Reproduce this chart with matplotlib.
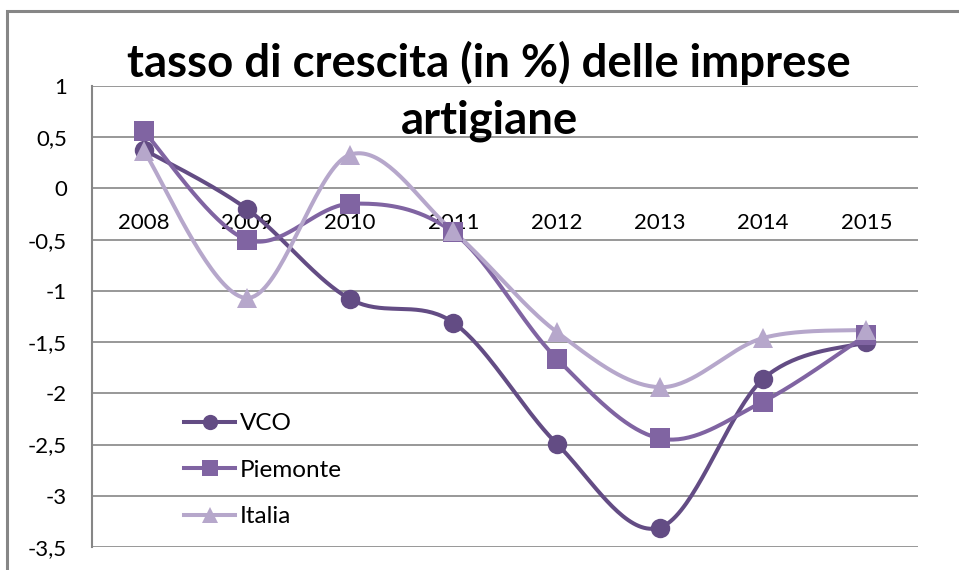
import numpy as np
import matplotlib.pyplot as plt
from matplotlib.patches import Rectangle

plt.rcParams['font.family'] = ['Lato', 'DejaVu Sans']

years = ['2008', '2009', '2010', '2011', '2012', '2013', '2014', '2015']
vco = [0.38, -0.20, -1.08, -1.31, -2.49, -3.31, -1.86, -1.50]
piemonte = [0.56, -0.50, -0.15, -0.43, -1.66, -2.44, -2.08, -1.43]
italia = [0.37, -1.07, 0.33, -0.42, -1.40, -1.94, -1.46, -1.38]
y_ticks = [1, 0.5, 0, -0.5, -1, -1.5, -2, -2.5, -3, -3.5]


def smooth(xs, ys, n=40):
    # Excel-like smoothed line (Catmull-Rom as Bezier segments)
    pts = np.column_stack([xs, ys]).astype(float)
    out = []
    for i in range(len(pts) - 1):
        p0 = pts[max(i - 1, 0)]
        p1 = pts[i]
        p2 = pts[i + 1]
        p3 = pts[min(i + 2, len(pts) - 1)]
        c1 = p1 + (p2 - p0) / 6
        c2 = p2 - (p3 - p1) / 6
        t = np.linspace(0, 1, n)[:, None]
        seg = ((1 - t) ** 3) * p1 + 3 * ((1 - t) ** 2) * t * c1 + 3 * (1 - t) * t ** 2 * c2 + t ** 3 * p2
        out.append(seg if i == 0 else seg[1:])
    out = np.vstack(out)
    return out[:, 0], out[:, 1]


fig = plt.figure(figsize=(9.59, 5.70), dpi=100)
ax = fig.add_axes([92 / 959, 1 - 547 / 570, 826 / 959, 461 / 570])

# chart border (cropped at right and bottom)
fig.patches.append(Rectangle((7 / 959, -0.1), 1.2, 1 - 11 / 570 + 0.1, transform=fig.transFigure,
                             fill=False, edgecolor='#868686', linewidth=2.2))

x = np.arange(len(years))
series = [
    ('VCO', vco, '#634C84', 'o'),
    ('Piemonte', piemonte, '#8064A2', 's'),
    ('Italia', italia, '#B6A7CB', '^'),
]
for name, vals, col, mk in series:
    sx, sy = smooth(x, vals)
    ax.plot(sx, sy, color=col, linewidth=2.9, solid_capstyle='round', zorder=3)
    ax.plot(x, vals, linestyle='none', marker=mk, markersize=14 if mk != '^' else 15,
            color=col, markeredgewidth=0, zorder=4)
    ax.plot([], [], color=col, linewidth=2.9, marker=mk, markersize=11, markeredgewidth=0, label=name)

ax.set_xlim(-0.5, len(years) - 0.5)
ax.set_ylim(-3.5, 1)
ax.spines['bottom'].set_position(('data', 0))
for s in ['top', 'right', 'bottom']:
    ax.spines[s].set_visible(False)
ax.spines['left'].set_color('#868686')
ax.spines['left'].set_linewidth(1.5)

ax.set_yticks(y_ticks)
ax.set_yticklabels([('%g' % v).replace('.', ',') for v in y_ticks], fontsize=16)
ax.yaxis.grid(True, color='#868686', linewidth=1.2)
ax.set_axisbelow(True)
ax.tick_params(axis='y', length=0, pad=18)

ax.set_xticks(x)
ax.set_xticklabels(years, fontsize=16)
ax.tick_params(axis='x', length=0, pad=18)

fig.text(489 / 959, 1 - 77 / 570, 'tasso di crescita (in %) delle imprese', ha='center', va='baseline',
         fontsize=32.8, fontweight='bold')
fig.text(489 / 959, 1 - 133 / 570, 'artigiane', ha='center', va='baseline',
         fontsize=32.8, fontweight='bold')

leg = ax.legend(loc='lower left', bbox_to_anchor=(0.085, -0.005), frameon=False, fontsize=17.5,
                handlelength=2.1, handletextpad=0.2, labelspacing=1.05)

fig.savefig('out.png', dpi=100)
